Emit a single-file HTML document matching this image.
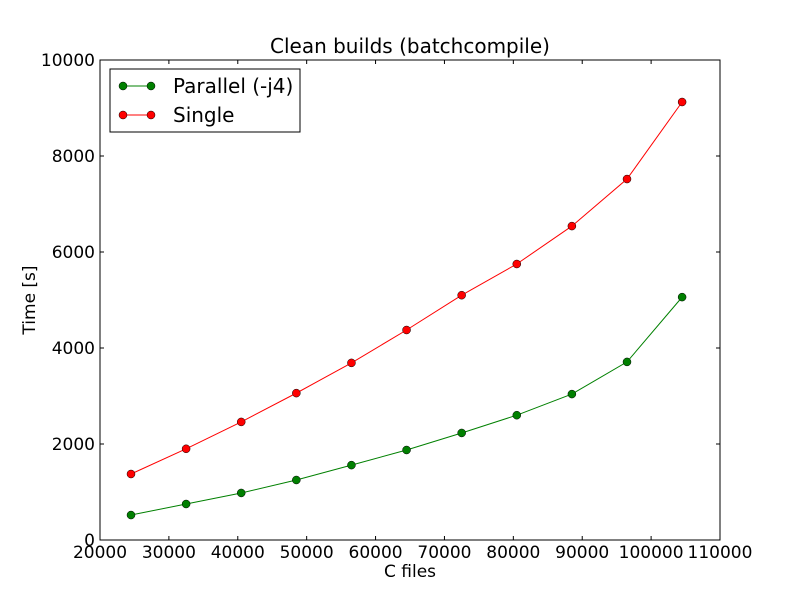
<!DOCTYPE html>
<html><head><meta charset="utf-8"><style>
body{margin:0;background:#fff;}
svg text{font-family:"DejaVu Sans","Liberation Sans",sans-serif;fill:#000;}
</style></head><body>
<svg id="chart" width="800" height="600" xmlns="http://www.w3.org/2000/svg">
<rect width="800" height="600" fill="#fff"/>
<g id="plot"></g>
</svg>
<script>
const xValues=[24500,32500,40500,48500,56500,64500,72500,80500,88500,96500,104500];
const parallelValues=[520,750,980,1250,1560,1875,2230,2600,3040,3710,5060];
const singleValues=[1375,1900,2460,3060,3690,4375,5100,5750,6540,7520,9125];
const xTicks=[20000,30000,40000,50000,60000,70000,80000,90000,100000,110000];
const yTicks=[0,2000,4000,6000,8000,10000];
const L=100,R=720,T=60,B=540;
const xs=v=>L+(v-20000)/90000*(R-L);
const ys=v=>B-v/10000*(B-T);
const NS="http://www.w3.org/2000/svg";
const g=document.getElementById('plot');
function mk(t,a,p){const e=document.createElementNS(NS,t);for(const k in a)e.setAttribute(k,a[k]);(p||g).appendChild(e);return e;}
const frame=mk('rect',{x:L,y:T,width:R-L,height:B-T,fill:'none',stroke:'#000','stroke-width':1});


xTicks.forEach(v=>{const x=xs(v);
 mk('line',{x1:x,x2:x,y1:B,y2:B-4,stroke:'#000'});mk('line',{x1:x,x2:x,y1:T,y2:T+4,stroke:'#000'});
 const t=mk('text',{x:x,y:B+18,'text-anchor':'middle','font-size':17});t.textContent=v;
 
 });
yTicks.forEach(v=>{const y=ys(v);
 mk('line',{x1:L,x2:L+4,y1:y,y2:y,stroke:'#000'});mk('line',{x1:R,x2:R-4,y1:y,y2:y,stroke:'#000'});
 const t=mk('text',{x:L-5,y:y+6,'text-anchor':'end','font-size':17});t.textContent=v;
 
 });
function series(vals,color,name){
 const pl=mk('polyline',{points:vals.map((v,i)=>xs(xValues[i])+','+ys(v)).join(' '),fill:'none',stroke:color,'stroke-width':1});
 
 
 vals.forEach((v,i)=>{const c=mk('circle',{cx:xs(xValues[i]),cy:ys(v),r:4,fill:color,stroke:'#000','stroke-width':0.5});
  
  });
}
series(singleValues,'#ff0000','single');
series(parallelValues,'#008000','parallel');
const title=mk('text',{x:410,y:53,'text-anchor':'middle','font-size':20});title.textContent='Clean builds (batchcompile)';


const xl=mk('text',{x:410,y:577,'text-anchor':'middle','font-size':17});xl.textContent='C files';


const yl=mk('text',{x:35,y:300,'text-anchor':'middle','font-size':17,transform:'rotate(-90 35 300)'});yl.textContent='Time [s]';


const lg=mk('rect',{x:110,y:69,width:190,height:63,fill:'#fff',stroke:'#000'});


[['Parallel (-j4)','#008000',86],['Single','#ff0000',115]].forEach(([n,c,y])=>{
 mk('line',{x1:123,x2:151,y1:y,y2:y,stroke:c});
 mk('circle',{cx:123,cy:y,r:4,fill:c,stroke:'#000','stroke-width':0.5});
 mk('circle',{cx:151,cy:y,r:4,fill:c,stroke:'#000','stroke-width':0.5});
 const t=mk('text',{x:173,y:y+7,'font-size':20});t.textContent=n;
 
 
});
</script>
</body></html>
